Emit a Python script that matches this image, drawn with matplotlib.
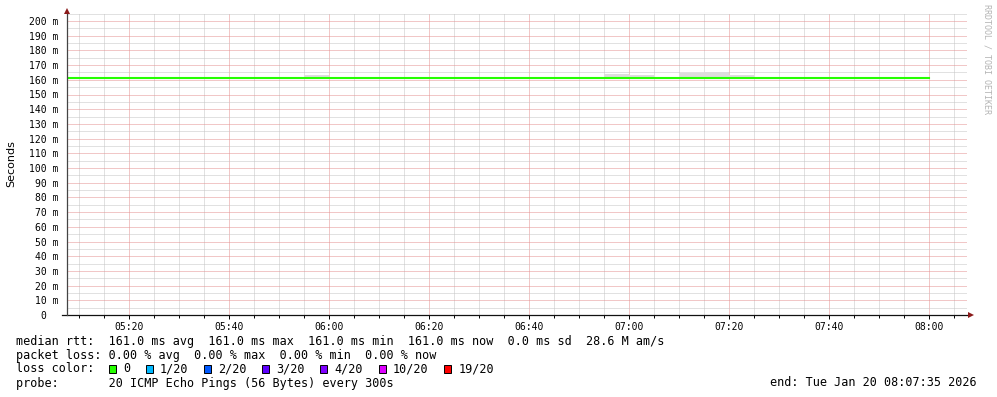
import matplotlib
matplotlib.use("Agg")
import matplotlib.pyplot as plt
import matplotlib.dates as mdates
from matplotlib.patches import Rectangle
from matplotlib.ticker import MultipleLocator, FuncFormatter
import pandas as pd

W, H = 997, 397
MONO = "DejaVu Sans Mono"

## Data ##

end_time = pd.Timestamp("2026-01-20 08:07:35")

# median rtt (seconds) for each 5 min step, steps start at 05:05, last ends 08:00
step_start = pd.date_range("2026-01-20 05:05", "2026-01-20 07:55", freq="5min")
median_rtt = [0.161, 0.161, 0.161, 0.161, 0.161, 0.161, 0.161, 0.161, 0.161,
              0.161, 0.161, 0.161, 0.161, 0.161, 0.161, 0.161, 0.161, 0.161,
              0.161, 0.161, 0.161, 0.161, 0.161, 0.161, 0.161, 0.161, 0.161,
              0.161, 0.161, 0.161, 0.161, 0.161, 0.161, 0.161, 0.161]

# visible smoke (ping spread) above the median
smoke_start = pd.to_datetime(["2026-01-20 05:50", "2026-01-20 05:55",
                              "2026-01-20 06:50", "2026-01-20 06:55",
                              "2026-01-20 07:00", "2026-01-20 07:10",
                              "2026-01-20 07:15", "2026-01-20 07:20"])
smoke_low = [0.1605, 0.1605, 0.1605, 0.1605, 0.1605, 0.1605, 0.1605, 0.1605]
smoke_high = [0.1620, 0.1630, 0.1620, 0.1638, 0.1631, 0.1645, 0.1652, 0.1631]

loss_labels = ["0", "1/20", "2/20", "3/20", "4/20", "10/20", "19/20"]
loss_colors = ["#26ff00", "#00b8ff", "#0059ff", "#5e00ff", "#7e00ff", "#dd00ff", "#ff0000"]

rtt_avg, rtt_max, rtt_min, rtt_now, rtt_sd = 161.0, 161.0, 161.0, 161.0, 0.0
am_per_s = "28.6 M"
loss_avg, loss_max, loss_min, loss_now = 0.00, 0.00, 0.00, 0.00
probe_text = "20 ICMP Echo Pings (56 Bytes) every 300s"

## Plot ##

fig = plt.figure(figsize=(W / 100, H / 100), dpi=100)
ax = fig.add_axes([67 / W, (H - 315) / H, 900 / W, 302 / H])
ax.set_xlim(end_time - pd.Timedelta(hours=3), end_time)
ax.set_ylim(0, 302 / 1.47 / 1000)

ax.bar(smoke_start, [h - l for h, l in zip(smoke_high, smoke_low)], width=5 / 1440,
       bottom=smoke_low, align="edge", color="#dddddd", linewidth=0, zorder=2)

xs = list(step_start) + [step_start[-1] + pd.Timedelta(minutes=5)]
ys = median_rtt + [median_rtt[-1]]
ax.step(xs, ys, where="post", color=loss_colors[0], lw=1.5, zorder=3)

# grid
ax.xaxis.set_major_locator(mdates.MinuteLocator(byminute=[0, 20, 40]))
ax.xaxis.set_minor_locator(mdates.MinuteLocator(byminute=range(0, 60, 5)))
ax.xaxis.set_major_formatter(mdates.DateFormatter("%H:%M"))
ax.yaxis.set_major_locator(MultipleLocator(0.01))
ax.yaxis.set_minor_locator(MultipleLocator(0.005))
ax.yaxis.set_major_formatter(FuncFormatter(
    lambda v, p: "0  " if abs(v) < 1e-9 else f"{v * 1000:.0f} m"))
ax.set_axisbelow(True)
ax.grid(which="minor", color="#c4c4c4", ls=(0, (1, 1)), lw=0.72)
ax.grid(which="major", color="#e49090", ls=(0, (1, 1)), lw=0.72)

for s in ax.spines.values():
    s.set_visible(False)
ax.tick_params(axis="x", which="major", length=3, width=0.7, pad=2, labelsize=7)
ax.tick_params(axis="x", which="minor", length=2, width=0.7)
ax.tick_params(axis="y", which="both", length=0, pad=6, labelsize=7)
for lbl in ax.get_xticklabels() + ax.get_yticklabels():
    lbl.set_fontfamily(MONO)

# axis lines with arrows
ax.plot([-5 / 900, 1 + 2 / 900], [0, 0], color="#111111", lw=0.9,
        transform=ax.transAxes, clip_on=False, zorder=5)
ax.plot([0, 0], [0, 1], color="#444444", lw=0.9,
        transform=ax.transAxes, clip_on=False, zorder=5)
ax.plot([1 + 3.5 / 900], [0], marker=">", ms=5, color="#8b1a1a", mew=0,
        transform=ax.transAxes, clip_on=False, zorder=6)
ax.plot([0], [1 + 2.5 / 302], marker="^", ms=5, color="#8b1a1a", mew=0,
        transform=ax.transAxes, clip_on=False, zorder=6)

fig.text(11 / W, 1 - 164 / H, "Seconds", rotation=90, ha="center", va="center",
         fontsize=8, family="DejaVu Sans")
fig.text(987 / W, 1 - 4 / H, "RRDTOOL / TOBI OETIKER", rotation=270,
         ha="center", va="top", fontsize=6, family=MONO, color="#b4b4b4")

## Legend ##

fs = 8.45
cw = 7.1  # character width in px
x0 = 16


def row(y, text):
    fig.text(x0 / W, 1 - y / H, text, ha="left", va="center", fontsize=fs, family=MONO)


row(341, f"median rtt:  {rtt_avg:.1f} ms avg  {rtt_max:.1f} ms max  "
         f"{rtt_min:.1f} ms min  {rtt_now:.1f} ms now  {rtt_sd:.1f} ms sd  {am_per_s} am/s")
row(355, f"packet loss: {loss_avg:.2f} % avg  {loss_max:.2f} % max  "
         f"{loss_min:.2f} % min  {loss_now:.2f} % now")
row(369, "loss color:")
row(383, f"probe:       {probe_text}")
fig.text(977 / W, 1 - 383 / H, f"end: {end_time:%a %b %d %H:%M:%S %Y}",
         ha="right", va="center", fontsize=fs, family=MONO)

col = 13.0
for lab, c in zip(loss_labels, loss_colors):
    bx = x0 + col * cw
    fig.patches.append(Rectangle(((bx + 0.5) / W, 1 - 373 / H), 7 / W, 8 / H,
                                 transform=fig.transFigure, facecolor=c,
                                 edgecolor="black", lw=0.7))
    col += 2.1
    fig.text((x0 + col * cw) / W, 1 - 369 / H, lab, ha="left", va="center",
             fontsize=fs, family=MONO)
    col += len(lab) + 2.1

fig.savefig("out.png", dpi=100)
